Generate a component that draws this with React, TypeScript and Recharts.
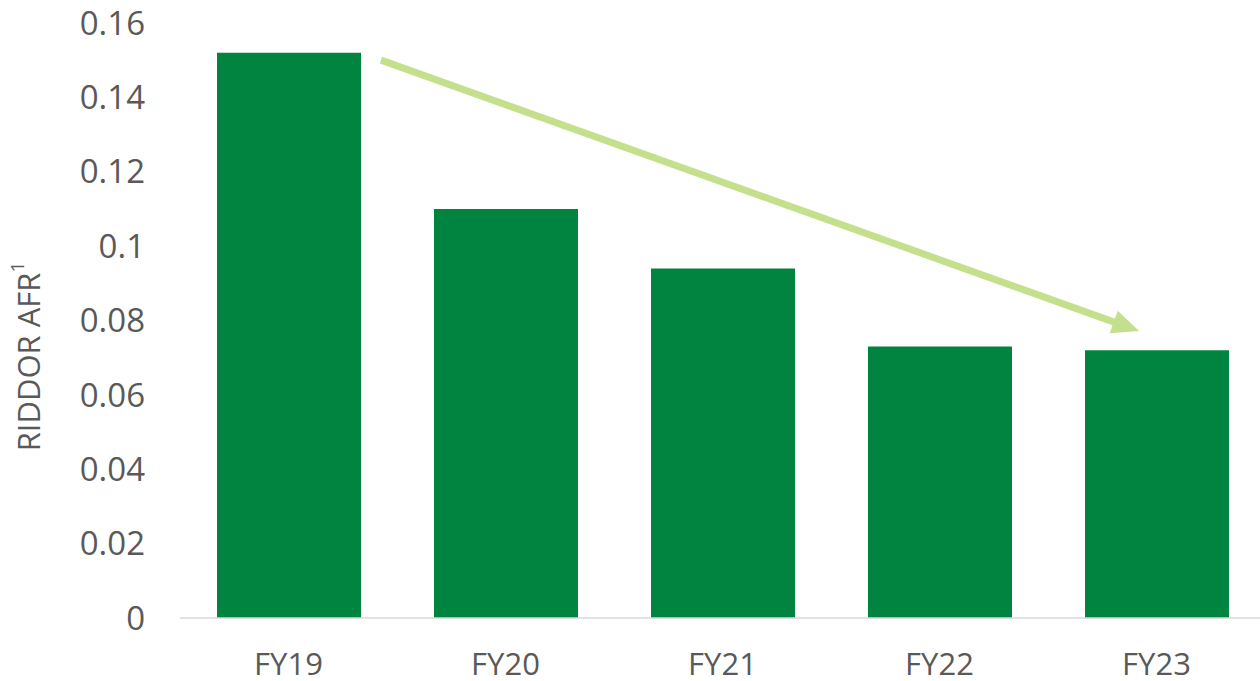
import { BarChart, Bar, XAxis, YAxis, ReferenceLine } from "recharts";

const years = ["FY19", "FY20", "FY21", "FY22", "FY23"];
const afrValues = [0.152, 0.11, 0.094, 0.073, 0.072];
const yTicks = [0, 0.02, 0.04, 0.06, 0.08, 0.1, 0.12, 0.14, 0.16];

// trend line anchored on the first and last category centres; the arrow
// itself is drawn over the [start, end] fraction of that segment
const trendFrom = { x: "FY19", y: 0.1589 };
const trendTo = { x: "FY23", y: 0.0755 };
const arrowSpan = [0.1066, 0.98];

const data = years.map((year, i) => ({ year, afr: afrValues[i] }));

const FONT = "'Open Sans', 'Liberation Sans', sans-serif";
const TEXT = "#595959";
const BAR = "#00843F";
const ARROW = "#C5E08D";

function TrendArrow(props: any) {
  const { x1, y1, x2, y2 } = props;
  if ([x1, y1, x2, y2].some((v) => typeof v !== "number")) return null;
  const lerp = (t: number) => [x1 + (x2 - x1) * t, y1 + (y2 - y1) * t];
  const [sx, sy] = lerp(arrowSpan[0]);
  const [ex, ey] = lerp(arrowSpan[1]);
  const dx = ex - sx;
  const dy = ey - sy;
  const len = Math.hypot(dx, dy);
  const ux = dx / len;
  const uy = dy / len;
  const headLen = 27;
  const headHalf = 12;
  const bx = ex - ux * headLen;
  const by = ey - uy * headLen;
  const pts = [
    [ex, ey],
    [bx - uy * headHalf, by + ux * headHalf],
    [bx + uy * headHalf, by - ux * headHalf],
  ]
    .map((p) => p.join(","))
    .join(" ");
  return (
    <g>
      <line x1={sx} y1={sy} x2={bx + ux * 2} y2={by + uy * 2} stroke={ARROW} strokeWidth={7} />
      <polygon points={pts} fill={ARROW} />
    </g>
  );
}

function YTitle(props: any) {
  const { viewBox } = props;
  const cx = 28;
  const cy = viewBox.y + viewBox.height / 2 + 36;
  return (
    <text
      x={cx}
      y={cy}
      transform={`rotate(-90 ${cx} ${cy})`}
      textAnchor="middle"
      dominantBaseline="central"
      fill={TEXT}
      fontFamily={FONT}
      fontSize={31}
    >
      RIDDOR AFR
      <tspan fontSize={19} dy={-11}>1</tspan>
    </text>
  );
}

export default function App() {
  return (
    <div
      style={{
        position: "absolute",
        left: 0,
        top: 0,
        width: 1260,
        height: 681,
        overflow: "hidden",
        background: "#fff",
      }}
    >
      <BarChart
        width={1265}
        height={681}
        data={data}
        margin={{ top: 23, right: 0, bottom: 0, left: 0 }}
      >
        <XAxis
          dataKey="year"
          height={63}
          tickLine={false}
          tickSize={0}
          tickMargin={35}
          axisLine={{ stroke: "#D9D9D9", strokeWidth: 1.5 }}
          tick={{ fill: TEXT, fontSize: 31, fontFamily: FONT }}
        />
        <YAxis
          width={180}
          domain={[0, 0.16]}
          ticks={yTicks}
          interval={0}
          axisLine={false}
          tickLine={false}
          tickSize={0}
          tickMargin={35}
          tick={{ fill: TEXT, fontSize: 33, fontFamily: FONT }}
          label={<YTitle />}
        />
        <Bar dataKey="afr" fill={BAR} barSize={144} isAnimationActive={false} />
        <ReferenceLine
          segment={[trendFrom, trendTo]}
          ifOverflow="visible"
          shape={<TrendArrow />}
        />
      </BarChart>
    </div>
  );
}
